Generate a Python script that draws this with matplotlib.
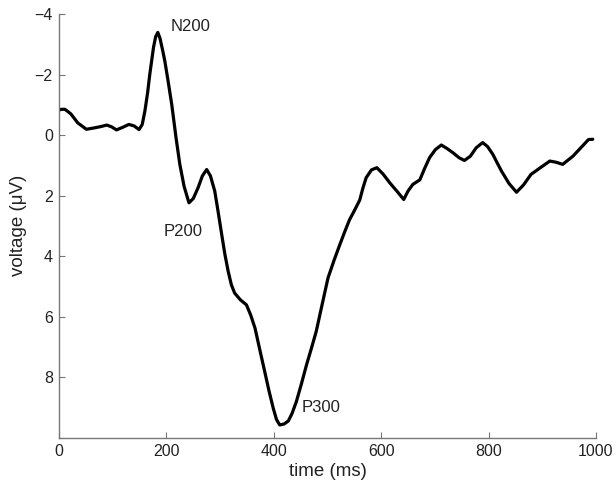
import matplotlib
matplotlib.use("Agg")
import matplotlib.pyplot as plt

plt.rcParams['font.family'] = ['Liberation Sans', 'DejaVu Sans']

# grand-average ERP waveform (time in ms, voltage in microvolts)
time_ms = [0, 4, 11, 22, 35, 51, 67, 78, 89, 98, 107, 118, 130, 140, 149, 155,
           160, 165, 169, 176, 180, 184, 188, 193, 197, 203, 210, 218, 225, 233,
           242, 250, 259, 267, 275, 282, 290, 296, 303, 309, 315, 321, 327, 338,
           349, 357, 365, 374, 383, 391, 399, 405, 411, 419, 427, 434, 442, 451,
           461, 470, 479, 490, 501, 512, 523, 532, 541, 550, 560, 566, 572, 582,
           592, 604, 616, 629, 642, 650, 659, 666, 672, 681, 690, 701, 712, 723,
           734, 745, 755, 766, 777, 789, 798, 808, 816, 824, 838, 852, 865, 879,
           898, 914, 926, 938, 957, 975, 986, 994]
voltage = [-0.82, -0.85, -0.85, -0.7, -0.4, -0.19, -0.24, -0.28, -0.33, -0.27,
           -0.17, -0.25, -0.35, -0.3, -0.18, -0.35, -0.8, -1.4, -2.0, -2.9,
           -3.25, -3.39, -3.2, -2.8, -2.45, -1.8, -1.0, 0.1, 0.97, 1.7,
           2.24, 2.1, 1.74, 1.35, 1.14, 1.35, 1.85, 2.5, 3.29, 3.95,
           4.5, 4.95, 5.22, 5.45, 5.61, 5.95, 6.38, 7.1, 7.81, 8.45,
           9.03, 9.4, 9.58, 9.55, 9.45, 9.2, 8.81, 8.25, 7.59, 7.05,
           6.49, 5.6, 4.72, 4.15, 3.62, 3.2, 2.8, 2.5, 2.15, 1.75,
           1.41, 1.15, 1.08, 1.3, 1.58, 1.85, 2.13, 1.85, 1.63, 1.55,
           1.48, 1.1, 0.75, 0.48, 0.33, 0.45, 0.59, 0.75, 0.84, 0.7,
           0.42, 0.25, 0.38, 0.64, 0.92, 1.19, 1.6, 1.89, 1.65, 1.30,
           1.06, 0.86, 0.9, 0.97, 0.70, 0.36, 0.15, 0.14]

# component labels and where they sit
peak_names = ['N200', 'P200', 'P300']
peak_pos = [(208, -3.6), (194, 3.2), (451, 9.0)]

x_ticks = [0, 200, 400, 600, 800, 1000]
y_ticks = [-4, -2, 0, 2, 4, 6, 8]

fig = plt.figure(figsize=(6.16, 4.82), dpi=100)
ax = fig.add_axes([0.0958, 0.092, 0.8717, 0.879])

ax.plot(time_ms, voltage, color='black', linewidth=2.3,
        solid_joinstyle='round', solid_capstyle='round')

for name, (tx, ty) in zip(peak_names, peak_pos):
    ax.text(tx, ty, name, fontsize=12, ha='left', va='center', color='#222222')

# negative up, as usual for ERPs
ax.set_xlim(0, 1000)
ax.set_ylim(10, -4)
ax.set_xticks(x_ticks)
ax.set_yticks(y_ticks)

for side in ['top', 'right']:
    ax.spines[side].set_visible(False)
for side in ['left', 'bottom']:
    ax.spines[side].set_color('#777777')
    ax.spines[side].set_linewidth(1.0)

ax.tick_params(direction='in', length=4, width=0.8, color='#777777',
               labelsize=11.5, labelcolor='#222222', pad=4.5)

ax.set_xlabel('time (ms)', fontsize=13.5, color='#222222', labelpad=3)
ax.set_ylabel('voltage (\u03bcV)', fontsize=13.5, color='#222222', labelpad=5)

fig.savefig('out.png', dpi=100)
